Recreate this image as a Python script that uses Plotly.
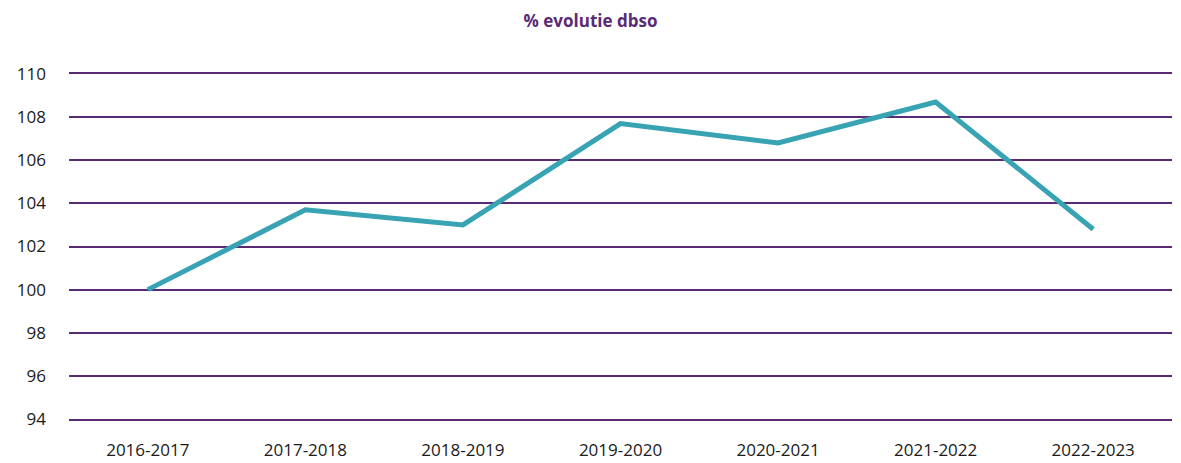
import plotly.graph_objects as go

categories = ["2016-2017", "2017-2018", "2018-2019", "2019-2020", "2020-2021", "2021-2022", "2022-2023"]
values = [100.0, 103.7, 103.0, 107.7, 106.8, 108.7, 102.8]
y_ticks = [94, 96, 98, 100, 102, 104, 106, 108, 110]

PURPLE = "#5b2a74"
TEAL = "#38a3b3"
TICK_FONT = "Open Sans, sans-serif"

W, H = 1181, 463

fig = go.Figure()
fig.add_trace(go.Scatter(
    x=categories, y=values, mode="lines",
    line=dict(color=TEAL, width=5),
    hoverinfo="x+y", showlegend=False,
))

fig.update_layout(
    width=W, height=H,
    margin=dict(l=69, r=9, t=74, b=44, autoexpand=False),
    paper_bgcolor="white", plot_bgcolor="white",
    font=dict(family=TICK_FONT, size=17, color="#1a1a1a"),
    title=dict(text="<b>% evolutie dbso</b>", x=0.5, xanchor="center", y=1 - 21 / H, yanchor="middle",
               font=dict(size=17, color=PURPLE, family="Open Sans, sans-serif")),
)
fig.update_xaxes(
    type="category", range=[-0.5, 6.5], automargin=False,
    showgrid=False, showline=True, mirror=True, linecolor=PURPLE, linewidth=1.5,
    ticks="", ticklabelstandoff=15,
    tickfont=dict(size=17, color="#1a1a1a", family=TICK_FONT),
)
fig.update_yaxes(
    range=[94, 110], tickvals=y_ticks, automargin=False,
    showgrid=True, gridcolor=PURPLE, gridwidth=1.5,
    zeroline=False, showline=False,
    ticks="", ticklabelstandoff=22,
    tickfont=dict(size=17, color="#1a1a1a", family=TICK_FONT),
)

fig.write_html(
    "out.html",
    config={"displayModeBar": False},
    post_script="document.body.style.margin='0';document.body.style.overflow='hidden';",
)
